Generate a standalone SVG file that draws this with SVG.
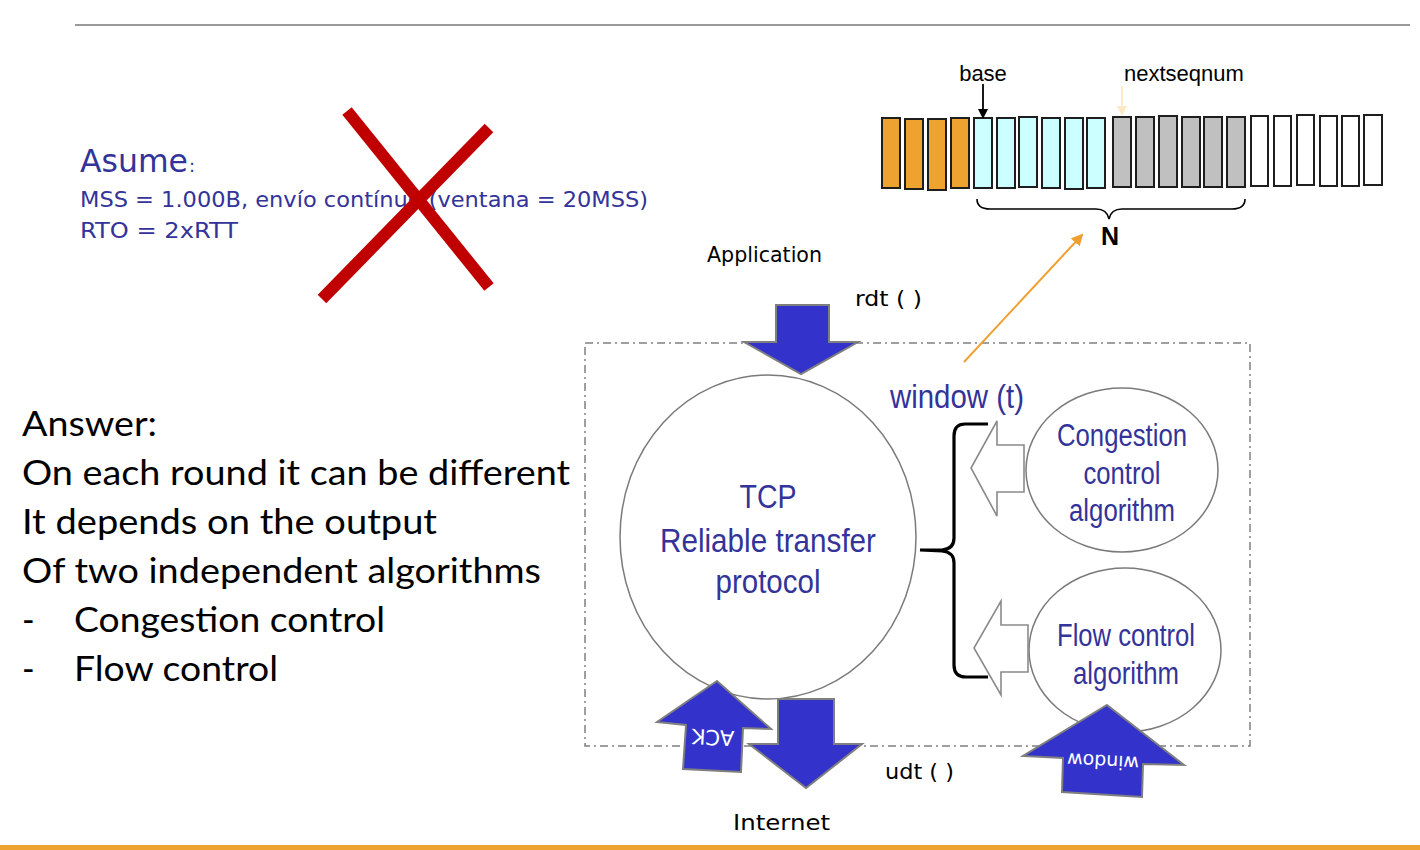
<svg xmlns="http://www.w3.org/2000/svg" width="1420" height="850" viewBox="0 0 1420 850">
  <style>
    .comic { font-family: "DejaVu Sans", "Liberation Sans", sans-serif; }
    .narrow { font-family: "Liberation Sans", Arial, sans-serif; fill: #333399; }
    .body { font-family: Lato, "Open Sans", "Liberation Sans", sans-serif; font-size: 34px; fill: #000; }
    .blue { fill: #333399; }
    .seq { stroke: #1e1e1e; stroke-width: 2; }
    .orange { fill: #eea230; }
    .cyan { fill: #ccffff; }
    .grey { fill: #c0c0c0; }
    .empty { fill: #ffffff; }
    .block { fill: #3333cc; stroke: #7f7f7f; stroke-width: 2; stroke-linejoin: miter; }
    .hollow { fill: #ffffff; stroke: #8a8a8a; stroke-width: 1.6; }
    .bubble { fill: #ffffff; stroke: #7a7a7a; stroke-width: 1.5; }
  </style>
  <defs>
    <marker id="headBlack" markerWidth="10" markerHeight="10" refX="8" refY="5" orient="auto" markerUnits="userSpaceOnUse">
      <path d="M0,0 L10,5 L0,10 Z" fill="#000"/>
    </marker>
    <marker id="headPale" markerWidth="10" markerHeight="10" refX="8" refY="5" orient="auto" markerUnits="userSpaceOnUse">
      <path d="M0,0 L10,5 L0,10 Z" fill="#fde9c4"/>
    </marker>
    <marker id="headOrange" markerWidth="12" markerHeight="12" refX="10" refY="6" orient="auto" markerUnits="userSpaceOnUse">
      <path d="M0,0 L12,6 L0,12 Z" fill="#f0a030"/>
    </marker>
  </defs>

  <rect width="1420" height="850" fill="#ffffff"/>

  <!-- slide rules -->
  <line x1="75" y1="25" x2="1410" y2="25" stroke="#9a9a9a" stroke-width="2"/>
  <rect x="0" y="845" width="1420" height="5" fill="#eea230"/>

  <!-- assumptions block, struck out -->
  <g id="assumptions">
    <text x="80" y="172" class="comic blue" font-size="32" textLength="108" lengthAdjust="spacingAndGlyphs">Asume</text>
    <text x="189" y="172" class="comic blue" font-size="18">:</text>
    <text x="80" y="207" class="comic blue" font-size="22" textLength="568" lengthAdjust="spacingAndGlyphs">MSS = 1.000B, envío contínuo (ventana = 20MSS)</text>
    <text x="80" y="238" class="comic blue" font-size="22" textLength="158" lengthAdjust="spacingAndGlyphs">RTO = 2xRTT</text>
    <g stroke="#c00000" stroke-width="12">
      <line x1="347" y1="111" x2="489" y2="287"/>
      <line x1="322" y1="299" x2="489" y2="128"/>
    </g>
  </g>

  <!-- answer text -->
  <g id="answer" class="body">
    <text x="22" y="436" textLength="135" lengthAdjust="spacingAndGlyphs">Answer:</text>
    <text x="22" y="485" textLength="548" lengthAdjust="spacingAndGlyphs">On each round it can be different</text>
    <text x="22" y="534" textLength="415" lengthAdjust="spacingAndGlyphs">It depends on the output</text>
    <text x="22" y="583" textLength="519" lengthAdjust="spacingAndGlyphs">Of two independent algorithms</text>
    <text x="22" y="632">-</text>
    <text x="74" y="632" textLength="311" lengthAdjust="spacingAndGlyphs">Congestion control</text>
    <text x="22" y="681">-</text>
    <text x="74" y="681" textLength="204" lengthAdjust="spacingAndGlyphs">Flow control</text>
  </g>

  <!-- sliding window of sequence numbers -->
  <g id="seq-window" class="seq">
    <rect class="orange" x="882" y="118" width="18" height="70"/>
    <rect class="orange" x="905" y="119" width="18" height="70"/>
    <rect class="orange" x="928" y="119" width="18" height="71"/>
    <rect class="orange" x="951" y="118" width="18" height="70"/>
    <rect class="cyan" x="974" y="118" width="18" height="70"/>
    <rect class="cyan" x="997" y="118" width="18" height="70"/>
    <rect class="cyan" x="1019" y="117" width="18" height="70"/>
    <rect class="cyan" x="1042" y="118" width="18" height="70"/>
    <rect class="cyan" x="1065" y="118" width="18" height="71"/>
    <rect class="cyan" x="1087" y="118" width="18" height="70"/>
    <rect class="grey" x="1113" y="117" width="18" height="70"/>
    <rect class="grey" x="1136" y="117" width="18" height="70"/>
    <rect class="grey" x="1159" y="116" width="18" height="71"/>
    <rect class="grey" x="1182" y="117" width="18" height="70"/>
    <rect class="grey" x="1204" y="117" width="18" height="70"/>
    <rect class="grey" x="1227" y="117" width="18" height="70"/>
    <rect class="empty" x="1251" y="116" width="17" height="70"/>
    <rect class="empty" x="1274" y="116" width="17" height="70"/>
    <rect class="empty" x="1297" y="115" width="17" height="70"/>
    <rect class="empty" x="1320" y="116" width="17" height="70"/>
    <rect class="empty" x="1342" y="116" width="17" height="70"/>
    <rect class="empty" x="1364" y="115" width="18" height="70"/>
  </g>
  <g id="seq-labels" font-family="'Liberation Sans', Arial, sans-serif" font-size="22" fill="#000">
    <text x="983" y="81" text-anchor="middle">base</text>
    <text x="1124" y="81">nextseqnum</text>
    <text x="1110" y="245" text-anchor="middle" font-weight="bold" font-size="25">N</text>
    <path d="M977,199 Q977,209 990,209 L1096,209 Q1107,209 1109,219 Q1111,209 1122,209 L1232,209 Q1245,209 1245,199" fill="none" stroke="#000" stroke-width="1.6"/>
  </g>

  <!-- protocol frame -->
  <rect id="frame" x="585" y="343" width="665" height="403" fill="none" stroke="#808080" stroke-width="1.5" stroke-dasharray="8,4,2,4"/>

  <!-- labels around the frame -->
  <g id="io-labels" class="comic" font-size="21" fill="#000">
    <text x="707" y="262" textLength="115" lengthAdjust="spacingAndGlyphs">Application</text>
    <text x="855" y="306" textLength="67" lengthAdjust="spacingAndGlyphs">rdt ( )</text>
    <text x="885" y="779" textLength="69" lengthAdjust="spacingAndGlyphs">udt ( )</text>
    <text x="733" y="830" textLength="97" lengthAdjust="spacingAndGlyphs">Internet</text>
  </g>

  <!-- nodes -->
  <g id="tcp">
    <ellipse class="bubble" cx="768" cy="537" rx="148" ry="162"/>
    <text class="narrow" x="768" y="508" font-size="34" text-anchor="middle" textLength="57" lengthAdjust="spacingAndGlyphs">TCP</text>
    <text class="narrow" x="768" y="552" font-size="34" text-anchor="middle" textLength="216" lengthAdjust="spacingAndGlyphs">Reliable transfer</text>
    <text class="narrow" x="768" y="593" font-size="34" text-anchor="middle" textLength="105" lengthAdjust="spacingAndGlyphs">protocol</text>
  </g>

  <g id="congestion">
    <ellipse class="bubble" cx="1122" cy="470" rx="96" ry="82"/>
    <text class="narrow" x="1122" y="446" font-size="31" text-anchor="middle" textLength="130" lengthAdjust="spacingAndGlyphs">Congestion</text>
    <text class="narrow" x="1122" y="484" font-size="31" text-anchor="middle" textLength="77" lengthAdjust="spacingAndGlyphs">control</text>
    <text class="narrow" x="1122" y="521" font-size="31" text-anchor="middle" textLength="106" lengthAdjust="spacingAndGlyphs">algorithm</text>
  </g>

  <g id="flow">
    <ellipse class="bubble" cx="1125" cy="650" rx="96" ry="82"/>
    <text class="narrow" x="1126" y="646" font-size="31" text-anchor="middle" textLength="138" lengthAdjust="spacingAndGlyphs">Flow control</text>
    <text class="narrow" x="1126" y="684" font-size="31" text-anchor="middle" textLength="106" lengthAdjust="spacingAndGlyphs">algorithm</text>
  </g>

  <g id="window-label">
    <text class="narrow" x="890" y="408" font-size="34" textLength="134" lengthAdjust="spacingAndGlyphs">window (t)</text>
  </g>

  <!-- connectors -->
  <g id="connectors">
    <line x1="983" y1="84" x2="983" y2="117" stroke="#000" stroke-width="1.8" marker-end="url(#headBlack)"/>
    <line x1="1122" y1="86" x2="1122" y2="114" stroke="#fde9c4" stroke-width="1.8" marker-end="url(#headPale)"/>
    <line x1="964" y1="362" x2="1082" y2="235" stroke="#f0a030" stroke-width="2" marker-end="url(#headOrange)"/>

    <!-- curly brace merging both algorithm outputs -->
    <path d="M988,424 L965,424 Q954,424 954,436 L954,538 Q954,549 942,550 L920,550 L942,551 Q954,552 954,563 L954,665 Q954,677 966,677 L988,677" fill="none" stroke="#000" stroke-width="3.2"/>

    <!-- hollow arrows from the algorithms -->
    <polygon class="hollow" points="1024,445 997,445 997,421 971,468 997,516 997,492 1024,492"/>
    <polygon class="hollow" points="1028,625 1001,625 1001,601 974,648 1001,695 1001,672 1028,672"/>

    <!-- block arrows -->
    <polygon class="block" points="776,305 829,305 829,342 858,342 801,374 744,342 776,342"/>
    <polygon class="block" points="778,699 834,699 834,744 862,744 806,788 749,744 778,744"/>
    <polygon class="block" points="717,681 771,729 743,728 741,772 683,769 686,725 657,722"/>
    <polygon class="block" points="1107,705 1184,765 1143,764 1142,797 1062,792 1063,758 1023,756"/>
    <text x="713" y="737" class="comic" font-size="21" fill="#ffffff" text-anchor="middle" dominant-baseline="central" transform="rotate(183 713 737)">ACK</text>
    <text x="1103" y="762" class="comic" font-size="19" fill="#ffffff" text-anchor="middle" dominant-baseline="central" transform="rotate(183 1103 762)">window</text>
  </g>
</svg>
